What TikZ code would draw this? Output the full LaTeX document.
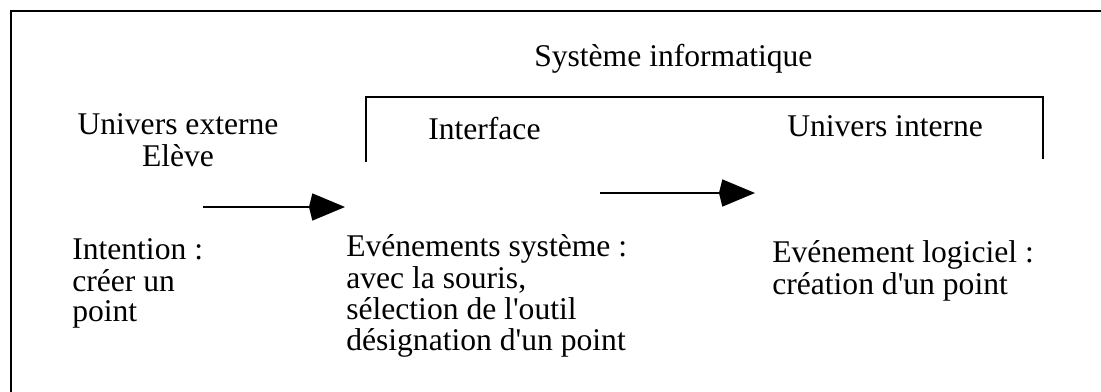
\documentclass[tikz,border=0pt]{standalone}
\usepackage{fontspec}
\setmainfont{Liberation Serif}
\usetikzlibrary{arrows.meta}

\tikzset{
  label text/.style={inner sep=0pt, font=\fontsize{23.7pt}{22.9pt}\selectfont},
  frame line/.style={line width=2.2pt},
  bracket line/.style={line width=1.6pt},
  flow arrow/.style={line width=2pt, -{Kite[length=27pt,width=20.5pt,inset=2.5pt]}},
}

\begin{document}
\begin{tikzpicture}[x=0.75pt, y=-0.75pt]
  \useasboundingbox (0,0) rectangle (1101,392);
  \clip (0,0) rectangle (1101,392);

  % outer frame (runs past the page on the right and at the bottom)
  \draw[frame line] (11,11) rectangle (1140,430);

  % bracket grouping the computer system
  \draw[bracket line] (366,162) -- (366,97) -- (1043,97) -- (1043,159);

  % headings
  \node[label text, anchor=base west] (sys) at (534,67) {Système informatique};
  \node[label text, anchor=base] (ext) at (178,135)
    {\begin{tabular}[t]{@{}c@{}}Univers externe\\Elève\end{tabular}};
  \node[label text, anchor=base west] (itf) at (428,140) {Interface};
  \node[label text, anchor=base west] (int) at (787,137) {Univers interne};

  % contents of each part
  \node[label text, anchor=base west] (intent) at (72,260)
    {\begin{tabular}[t]{@{}l@{}}Intention :\\créer un\\point\end{tabular}};
  \node[label text, anchor=base west] (evsys) at (346,257)
    {\begin{tabular}[t]{@{}l@{}}Evénements système :\\avec la souris,\\sélection de l\textquotesingle outil\\désignation d\textquotesingle un point\end{tabular}};
  \node[label text, anchor=base west] (evlog) at (772,263)
    {\begin{tabular}[t]{@{}l@{}}Evénement logiciel :\\création d\textquotesingle un point\end{tabular}};

  % flow arrows
  \coordinate (a1s) at (203,207);
  \coordinate (a1e) at (345,207);
  \coordinate (a2s) at (600,193);
  \coordinate (a2e) at (755,193);
  \draw[flow arrow] (a1s) -- (a1e);
  \draw[flow arrow] (a2s) -- (a2e);
\end{tikzpicture}
\end{document}
